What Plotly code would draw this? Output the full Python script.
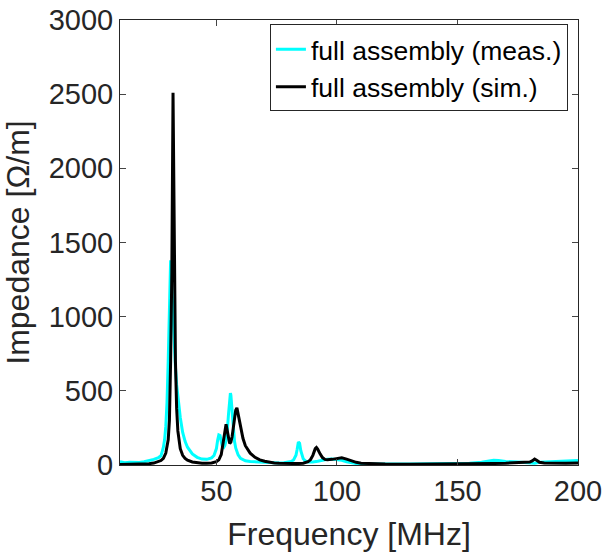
import plotly.graph_objects as go

# Measured impedance (cyan)
freq_meas = [10, 12, 14, 16, 18, 20, 22, 24, 26, 27, 28, 28.5, 29, 29.5, 30, 30.5, 31, 31.5, 32, 32.5,
             33, 33.5, 34, 35, 36, 37, 38, 40, 42, 44, 46, 48, 49, 50, 50.5, 51, 51.5, 52, 52.5, 53,
             53.5, 54, 54.5, 55, 55.5, 55.8, 56, 56.5, 57, 57.5, 58, 59, 60, 61, 62, 64, 66, 68, 70, 72,
             74, 76, 78, 80, 81, 82, 83, 83.5, 84, 84.5, 85, 86, 87, 88, 89, 90, 92, 94, 96, 98,
             100, 102, 104, 106, 108, 110, 115, 120, 130, 140, 150, 155, 160, 163, 165, 167, 170, 175, 178, 180,
             182, 184, 186, 190, 195, 200]
imp_meas = [22, 16, 18, 15, 17, 22, 28, 38, 50, 62, 120, 170, 260, 420, 700, 1050, 1380, 1200, 1000, 820,
            660, 540, 450, 320, 220, 160, 120, 75, 52, 40, 38, 48, 64, 111, 167, 203, 199, 150, 122, 118,
            132, 165, 231, 340, 465, 485, 470, 350, 235, 160, 115, 68, 45, 34, 28, 23, 21, 18, 16, 14,
            14, 14, 16, 20, 24, 34, 66, 106, 155, 147, 96, 42, 26, 20, 18, 20, 25, 32, 38, 40,
            38, 32, 22, 15, 10, 8, 6, 6, 7, 8, 10, 12, 18, 26, 32, 30, 24, 20, 18, 16,
            12, 18, 20, 22, 25, 30]

# Simulated impedance (black)
freq_sim = [10, 14, 18, 22, 24, 26, 27, 28, 29, 30, 30.5, 31, 31.5, 32, 32.5, 33, 33.5, 34, 35, 36,
            37, 38, 40, 42, 44, 46, 48, 50, 51, 52, 52.5, 53, 53.5, 54, 54.5, 55, 55.5, 56, 56.5, 57,
            57.5, 58, 58.5, 59, 59.5, 60, 61, 62, 63, 64, 66, 68, 70, 72, 74, 76, 78, 80, 82, 84,
            86, 88, 89, 90, 90.5, 91, 91.5, 92, 93, 94, 95, 96, 98, 100, 102, 104, 106, 108, 110, 115,
            120, 130, 140, 150, 160, 165, 170, 175, 178, 180, 181, 182, 183, 184, 186, 190, 195, 200]
imp_sim = [3, 4, 5, 9, 13, 22, 30, 45, 80, 170, 300, 700, 1300, 2510, 1450, 700, 380, 230, 110, 65,
           45, 32, 20, 15, 12, 12, 14, 22, 35, 70, 120, 180, 240, 275, 230, 170, 145, 155, 190, 250,
           320, 370, 385, 340, 290, 250, 180, 130, 100, 80, 52, 35, 25, 18, 14, 12, 10, 10, 10, 10,
           12, 22, 35, 65, 90, 110, 118, 108, 75, 50, 38, 35, 38, 45, 48, 40, 28, 18, 12, 8,
           6, 5, 5, 6, 8, 10, 12, 14, 16, 20, 28, 40, 30, 18, 14, 12, 12, 13]

x_ticks = [50, 100, 150, 200]
y_ticks = [0, 500, 1000, 1500, 2000, 2500, 3000]

AX = "#262626"
FONT = "Liberation Sans, Arial, Helvetica, sans-serif"

fig = go.Figure()
fig.add_trace(go.Scatter(x=freq_meas, y=imp_meas, mode="lines",
                         line=dict(color="#00FFFF", width=3),
                         name="full assembly (meas.)"))
fig.add_trace(go.Scatter(x=freq_sim, y=imp_sim, mode="lines",
                         line=dict(color="#000000", width=3),
                         name="full assembly (sim.)"))

fig.update_layout(
    width=605, height=552,
    margin=dict(l=120, r=27, t=20, b=87),
    paper_bgcolor="white", plot_bgcolor="white",
    font=dict(family=FONT, color=AX),
    showlegend=True,
    legend=dict(x=0.978, y=0.99, xanchor="right", yanchor="top",
                bgcolor="white", bordercolor=AX, borderwidth=1,
                font=dict(family=FONT, size=26.5, color="#000000"),
                tracegroupgap=0, itemwidth=30),
)
fig.update_xaxes(range=[10, 200], tickvals=x_ticks, ticks="inside", ticklen=6,
                 showline=True, linecolor=AX, linewidth=1, mirror="ticks",
                 showgrid=False, zeroline=False, automargin=False,
                 ticklabeloverflow="allow",
                 tickfont=dict(size=29, color=AX),
                 title=dict(text="Frequency [MHz]", font=dict(size=32, color=AX), standoff=19))
fig.update_yaxes(range=[0, 3000], tickvals=y_ticks, ticks="inside", ticklen=6,
                 showline=True, linecolor=AX, linewidth=1, mirror="ticks",
                 showgrid=False, zeroline=False, automargin=False,
                 ticklabeloverflow="allow",
                 tickfont=dict(size=29, color=AX),
                 title=dict(text="Impedance [Ω/m]", font=dict(size=32, color=AX), standoff=11))

fig.write_html("out.html", config={"displayModeBar": False},
               post_script="document.body.style.margin='0';document.body.style.padding='0';")
